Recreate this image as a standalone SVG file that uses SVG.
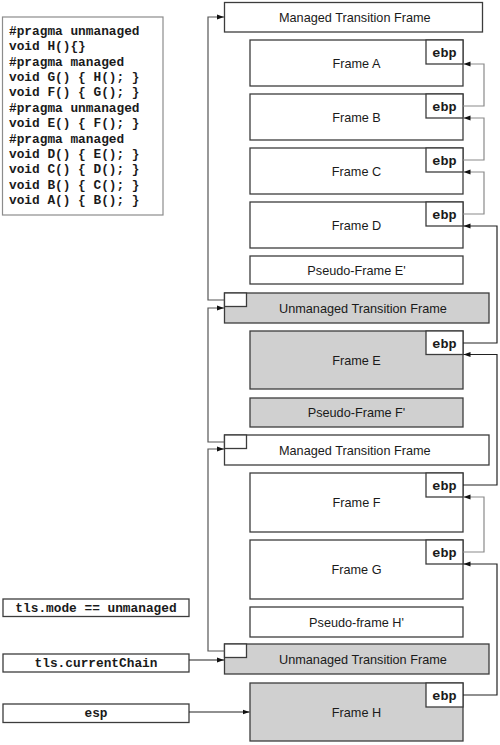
<svg xmlns="http://www.w3.org/2000/svg" width="500" height="745" viewBox="0 0 500 745">
<style>
.box{fill:#fff;stroke:#3c3c3c;stroke-width:1.3}
.gbox{fill:#d0d0d0;stroke:#3c3c3c;stroke-width:1.3}
.sbox{fill:#fff;stroke:#3c3c3c;stroke-width:1.3}
.lbl{font-family:"Liberation Sans",Arial,sans-serif;font-size:12.7px;fill:#1a1a1a}
.mid{text-anchor:middle}
.mono{font-family:"Liberation Mono","Courier New",monospace;font-weight:bold;fill:#1a1a1a}
.code{font-size:12.8px}
.ebp{font-size:13.5px;text-anchor:middle}
.lnk{fill:none;stroke:#222;stroke-width:1.2;marker-end:url(#ah)}
.glnk{fill:none;stroke:#8a8a8a;stroke-width:1.2;marker-end:url(#ah)}
.chain{fill:none;stroke:#555;stroke-width:1.2;marker-end:url(#ah)}
</style>
<defs>
<marker id="ah" markerUnits="userSpaceOnUse" markerWidth="8" markerHeight="6" refX="7" refY="3" orient="auto">
<path d="M0,0.5 L7,3 L0,5.5 z" fill="#111"/>
</marker>
</defs>
<rect width="500" height="745" fill="#fff"/>

<g id="code">
<rect x="2.5" y="17" width="160.5" height="198" fill="#fff" stroke="#8c8c8c" stroke-width="1.2"/>
<text class="mono code" x="9" y="35">#pragma unmanaged</text>
<text class="mono code" x="9" y="50.4">void H(){}</text>
<text class="mono code" x="9" y="65.7">#pragma managed</text>
<text class="mono code" x="9" y="81.1">void G() { H(); }</text>
<text class="mono code" x="9" y="96.4">void F() { G(); }</text>
<text class="mono code" x="9" y="111.8">#pragma unmanaged</text>
<text class="mono code" x="9" y="127.2">void E() { F(); }</text>
<text class="mono code" x="9" y="142.5">#pragma managed</text>
<text class="mono code" x="9" y="157.9">void D() { E(); }</text>
<text class="mono code" x="9" y="173.2">void C() { D(); }</text>
<text class="mono code" x="9" y="188.6">void B() { C(); }</text>
<text class="mono code" x="9" y="204">void A() { B(); }</text>
</g>

<g id="tlsmode">
<rect class="box" x="3" y="599" width="186" height="17.5"/>
<text class="mono code mid" x="96" y="612">tls.mode == unmanaged</text>
</g>
<g id="tlschain">
<rect class="box" x="3" y="654" width="186" height="18"/>
<text class="mono code mid" x="96" y="667">tls.currentChain</text>
</g>
<g id="esp">
<rect class="box" x="3" y="704" width="186" height="18.5"/>
<text class="mono code mid" x="96" y="717">esp</text>
</g>

<g id="mtf1">
<rect class="box" x="224.5" y="2.5" width="258" height="29.5"/>
<text class="lbl" x="279" y="21.5">Managed Transition Frame</text>
</g>

<g id="frameA">
<rect class="box" x="250" y="40" width="213" height="46"/>
<text class="lbl mid" x="356.5" y="67.5">Frame A</text>
<rect class="sbox" x="426" y="40" width="37" height="24"/>
<text class="mono ebp" x="444.5" y="56.5">ebp</text>
</g>
<g id="frameB">
<rect class="box" x="250" y="94" width="213" height="46"/>
<text class="lbl mid" x="356.5" y="121.5">Frame B</text>
<rect class="sbox" x="426" y="94" width="37" height="24"/>
<text class="mono ebp" x="444.5" y="110.5">ebp</text>
</g>
<g id="frameC">
<rect class="box" x="250" y="148" width="213" height="46"/>
<text class="lbl mid" x="356.5" y="175.5">Frame C</text>
<rect class="sbox" x="426" y="148" width="37" height="24"/>
<text class="mono ebp" x="444.5" y="164.5">ebp</text>
</g>
<g id="frameD">
<rect class="box" x="250" y="202" width="213" height="46"/>
<text class="lbl mid" x="356.5" y="229.5">Frame D</text>
<rect class="sbox" x="426" y="202" width="37" height="24"/>
<text class="mono ebp" x="444.5" y="218.5">ebp</text>
</g>
<g id="pseudoE">
<rect class="box" x="250" y="256" width="213" height="28"/>
<text class="lbl mid" x="356.5" y="274.5">Pseudo-Frame E'</text>
</g>

<g id="utf1">
<rect class="gbox" x="224.5" y="293" width="264.5" height="30"/>
<rect class="sbox" x="224.5" y="293" width="22" height="13.5"/>
<text class="lbl" x="279" y="312.5">Unmanaged Transition Frame</text>
</g>

<g id="frameE">
<rect class="gbox" x="250" y="331" width="213" height="58"/>
<text class="lbl mid" x="356.5" y="364.5">Frame E</text>
<rect class="sbox" x="426" y="331" width="37" height="23.5"/>
<text class="mono ebp" x="444.5" y="347.5">ebp</text>
</g>
<g id="pseudoF">
<rect class="gbox" x="250" y="398" width="213" height="29"/>
<text class="lbl mid" x="356.5" y="417">Pseudo-Frame F'</text>
</g>

<g id="mtf2">
<rect class="box" x="224.5" y="435" width="264.5" height="30"/>
<rect class="sbox" x="224.5" y="435" width="22" height="13.5"/>
<text class="lbl" x="279" y="454.5">Managed Transition Frame</text>
</g>

<g id="frameF">
<rect class="box" x="250" y="473" width="213" height="59"/>
<text class="lbl mid" x="356.5" y="507">Frame F</text>
<rect class="sbox" x="426" y="473" width="37" height="24"/>
<text class="mono ebp" x="444.5" y="489.5">ebp</text>
</g>
<g id="frameG">
<rect class="box" x="250" y="540" width="213" height="59"/>
<text class="lbl mid" x="356.5" y="574">Frame G</text>
<rect class="sbox" x="426" y="540" width="37" height="24"/>
<text class="mono ebp" x="444.5" y="556.5">ebp</text>
</g>
<g id="pseudoH">
<rect class="box" x="250" y="607" width="213" height="30"/>
<text class="lbl mid" x="356.5" y="626.5">Pseudo-frame H'</text>
</g>

<g id="utf2">
<rect class="gbox" x="224.5" y="644" width="264.5" height="30"/>
<rect class="sbox" x="224.5" y="644" width="22" height="13.5"/>
<text class="lbl" x="279" y="663.5">Unmanaged Transition Frame</text>
</g>

<g id="frameH">
<rect class="gbox" x="250" y="683" width="213" height="58"/>
<text class="lbl mid" x="356.5" y="716.5">Frame H</text>
<rect class="sbox" x="426" y="683" width="37" height="24"/>
<text class="mono ebp" x="444.5" y="699.5">ebp</text>
</g>

<g id="connectors">
<path class="glnk" d="M463,106 H484 V64 H463.5"/>
<path class="glnk" d="M463,160 H484 V118 H463.5"/>
<path class="glnk" d="M463,214 H484 V172 H463.5"/>
<path class="lnk" d="M463,343 H497 V226 H463.5"/>
<path class="lnk" d="M463,485 H497 V354.5 H463.5"/>
<path class="glnk" d="M463,552 H484 V497 H463.5"/>
<path class="lnk" d="M463,695 H497 V564 H463.5"/>
<path class="chain" d="M224.5,300 H208 V17 H224"/>
<path class="chain" d="M224.5,442 H208 V308 H224"/>
<path class="chain" d="M224.5,651 H208 V449 H224"/>
<path class="lnk" d="M189,660 H224"/>
<path class="lnk" d="M189,712 H249.5"/>
</g>
</svg>
